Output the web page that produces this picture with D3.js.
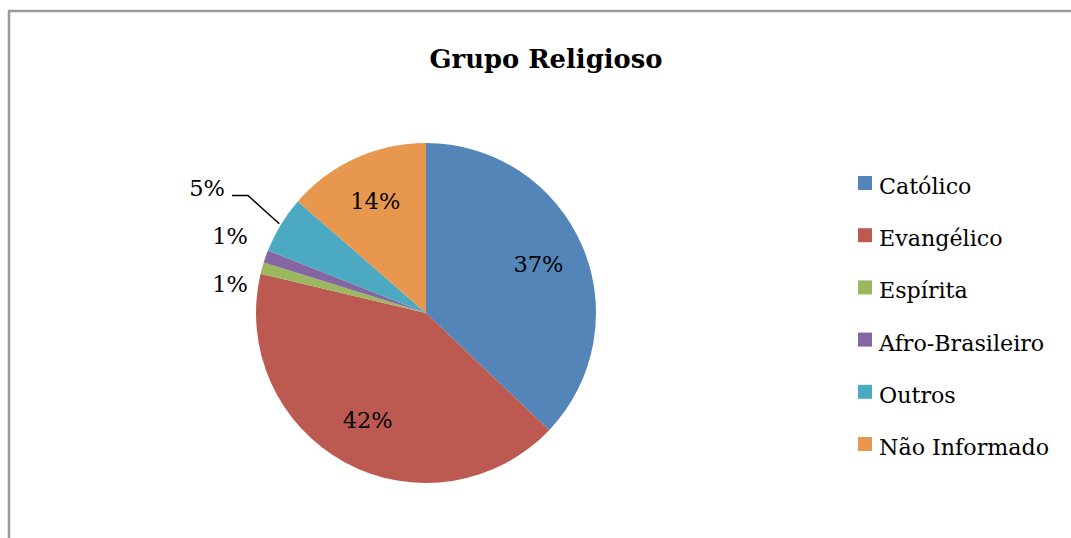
<!DOCTYPE html>
<html>
<head>
<meta charset="utf-8">
<script src="https://cdn.jsdelivr.net/npm/d3@7"></script>
<style>
html,body{margin:0;padding:0;background:#fff;}
svg{display:block;}
</style>
</head>
<body>
<svg id="chart" width="1071" height="538"></svg>
<script>
const title = "Grupo Religioso";
const categories = ["Católico", "Evangélico", "Espírita", "Afro-Brasileiro", "Outros", "Não Informado"];
const values = [37.1, 41.6, 1.1, 1.2, 5.4, 13.6];
const colors = ["#5385B8", "#BC5A52", "#9BB760", "#8467A2", "#4BA9C1", "#E8974F"];

const W = 1071, H = 538;
const svg = d3.select("#chart");
const fontFam = "'DejaVu Serif', 'Liberation Serif', serif";

// frame (top and left edges visible)
svg.append("line").attr("x1", 8).attr("x2", W).attr("y1", 11).attr("y2", 11)
  .attr("stroke", "#9a9a9a").attr("stroke-width", 2.5);
svg.append("line").attr("x1", 9).attr("x2", 9).attr("y1", 10).attr("y2", H)
  .attr("stroke", "#9a9a9a").attr("stroke-width", 2.5);

// title
svg.append("text").attr("x", 546).attr("y", 68).attr("text-anchor", "middle")
  .attr("font-family", fontFam).attr("font-weight", "bold").attr("font-size", 25.8)
  .attr("fill", "#000").text(title);

const cx = 426, cy = 313, r = 170;
const data = categories.map((c, i) => ({ cat: c, v: values[i], color: colors[i] }));
const total = d3.sum(values);
const pie = d3.pie().sort(null).value(d => d.v).startAngle(0).endAngle(2 * Math.PI);
const arcs = pie(data);
const arc = d3.arc().innerRadius(0).outerRadius(r);
const fmt = d3.format(".0%");

const g = svg.append("g").attr("transform", `translate(${cx},${cy})`);
g.selectAll("path").data(arcs).enter().append("path")
  .attr("d", arc).attr("fill", d => d.data.color);

const labelSize = 22.5;
// inside labels
const inArc = d3.arc().innerRadius(r * 0.72).outerRadius(r * 0.72);
arcs.filter(a => a.data.v / total >= 0.1).forEach(a => {
  const [x, y] = inArc.centroid(a);
  g.append("text").attr("x", x).attr("y", y).attr("dy", "0.33em")
    .attr("text-anchor", "middle").attr("font-family", fontFam)
    .attr("font-size", labelSize).attr("fill", "#000").text(fmt(a.data.v / total));
});

// outside labels
const small = arcs.filter(a => a.data.v / total < 0.1);
const mid = a => (a.startAngle + a.endAngle) / 2;
small.forEach(a => {
  a.ly0 = -Math.cos(mid(a)) * 200;
  a.ay = -Math.cos(mid(a)) * r;
  a.ax = Math.sin(mid(a)) * r;
});
const sorted = small.slice().sort((p, q) => q.ly0 - p.ly0);
const meanY = d3.mean(sorted, a => a.ly0) - 2;
const gap = 48;
sorted.forEach((a, i) => { a.ly = meanY + ((sorted.length - 1) / 2 - i) * gap; });
const edgeX = -r - 8;
small.forEach(a => {
  const leader = Math.abs(a.ly - a.ay) > 25;
  let tx = edgeX;
  if (leader) {
    const ly = a.ly + 7;
    g.append("polyline")
      .attr("points", [[edgeX - 16, ly], [edgeX, ly], [a.ax * 1.01, a.ay * 1.01]].map(p => p.join(",")).join(" "))
      .attr("fill", "none").attr("stroke", "#000").attr("stroke-width", 1.5);
    tx = edgeX - 23;
  }
  g.append("text").attr("x", tx).attr("y", a.ly).attr("dy", "0.35em")
    .attr("text-anchor", "end").attr("font-family", fontFam)
    .attr("font-size", labelSize).attr("fill", "#000").text(fmt(a.data.v / total));
});

// legend
const legend = svg.append("g");
const ly0 = 183, lstep = 52.2;
data.forEach((d, i) => {
  const y = ly0 + i * lstep;
  legend.append("rect").attr("x", 858).attr("y", y - 7).attr("width", 14).attr("height", 14)
    .attr("fill", d.color);
  legend.append("text").attr("x", 879).attr("y", y + 11)
    .attr("font-family", fontFam).attr("font-size", 22.2).attr("fill", "#000").text(d.cat);
});
</script>
</body>
</html>
